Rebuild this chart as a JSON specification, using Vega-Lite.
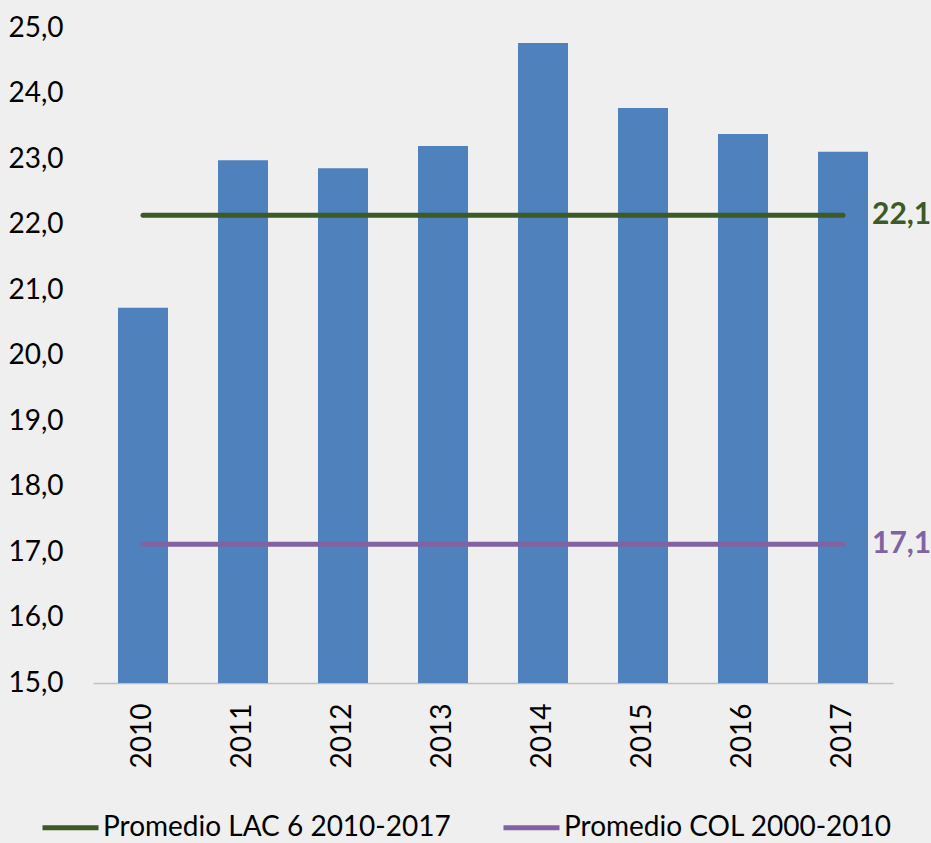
{
  "$schema": "https://vega.github.io/schema/vega-lite/v6.json",
  "autosize": "none",
  "width": 800,
  "height": 655,
  "padding": {"left": 93, "top": 28, "right": 38, "bottom": 160},
  "background": "#efefef",
  "config": {
    "font": "Lato",
    "view": {"stroke": null},
    "locale": {"number": {"decimal": ",", "thousands": ".", "grouping": [3], "currency": ["", " €"]}}
  },
  "datasets": {
    "bars": [
      {"year": "2010", "value": 20.73},
      {"year": "2011", "value": 22.98},
      {"year": "2012", "value": 22.86},
      {"year": "2013", "value": 23.2},
      {"year": "2014", "value": 24.77},
      {"year": "2015", "value": 23.78},
      {"year": "2016", "value": 23.38},
      {"year": "2017", "value": 23.11}
    ],
    "lines": [
      {"series": "Promedio LAC 6 2010-2017", "year": "2010", "value": 22.14},
      {"series": "Promedio LAC 6 2010-2017", "year": "2017", "value": 22.14},
      {"series": "Promedio COL 2000-2010", "year": "2010", "value": 17.12},
      {"series": "Promedio COL 2000-2010", "year": "2017", "value": 17.12}
    ],
    "labels": [
      {"series": "Promedio LAC 6 2010-2017", "year": "2017", "value": 22.14},
      {"series": "Promedio COL 2000-2010", "year": "2017", "value": 17.12}
    ]
  },
  "encoding": {
    "x": {
      "field": "year", "type": "ordinal",
      "scale": {"paddingInner": 0.5, "paddingOuter": 0.25},
      "axis": {"title": null, "labelAngle": -90, "labelFontSize": 28, "labelColor": "#000000", "labelPadding": 20, "ticks": false, "domainColor": "#bfbfbf", "domainWidth": 1.5}
    },
    "y": {
      "field": "value", "type": "quantitative",
      "scale": {"domain": [15, 25], "nice": false, "zero": false},
      "axis": {"title": null, "values": [15, 16, 17, 18, 19, 20, 21, 22, 23, 24, 25], "format": ".1f", "grid": false, "domain": false, "ticks": false, "labelFontSize": 28, "labelColor": "#000000", "labelPadding": 30}
    }
  },
  "layer": [
    {
      "data": {"name": "bars"},
      "mark": {"type": "bar", "color": "#4f81bd"},
      "encoding": {"y2": {"datum": 15}}
    },
    {
      "data": {"name": "lines"},
      "mark": {"type": "line", "strokeWidth": 5, "strokeCap": "round"},
      "encoding": {
        "color": {
          "field": "series", "type": "nominal",
          "scale": {"domain": ["Promedio LAC 6 2010-2017", "Promedio COL 2000-2010"], "range": ["#3b5a26", "#8064a2"]},
          "legend": {
            "title": null, "orient": "none", "legendX": -53, "legendY": 769, "direction": "horizontal",
            "symbolType": "stroke", "symbolSize": 3136, "symbolStrokeWidth": 5,
            "labelFontSize": 28, "labelColor": "#000000", "labelOffset": 2, "columnPadding": 42, "labelLimit": 500
          }
        }
      }
    },
    {
      "data": {"name": "labels"},
      "mark": {"type": "text", "align": "left", "baseline": "middle", "dx": 29, "fontSize": 30, "fontWeight": "bold"},
      "encoding": {
        "text": {"field": "value", "type": "quantitative", "format": ".1f"},
        "color": {"field": "series", "type": "nominal", "legend": null}
      }
    }
  ]
}
